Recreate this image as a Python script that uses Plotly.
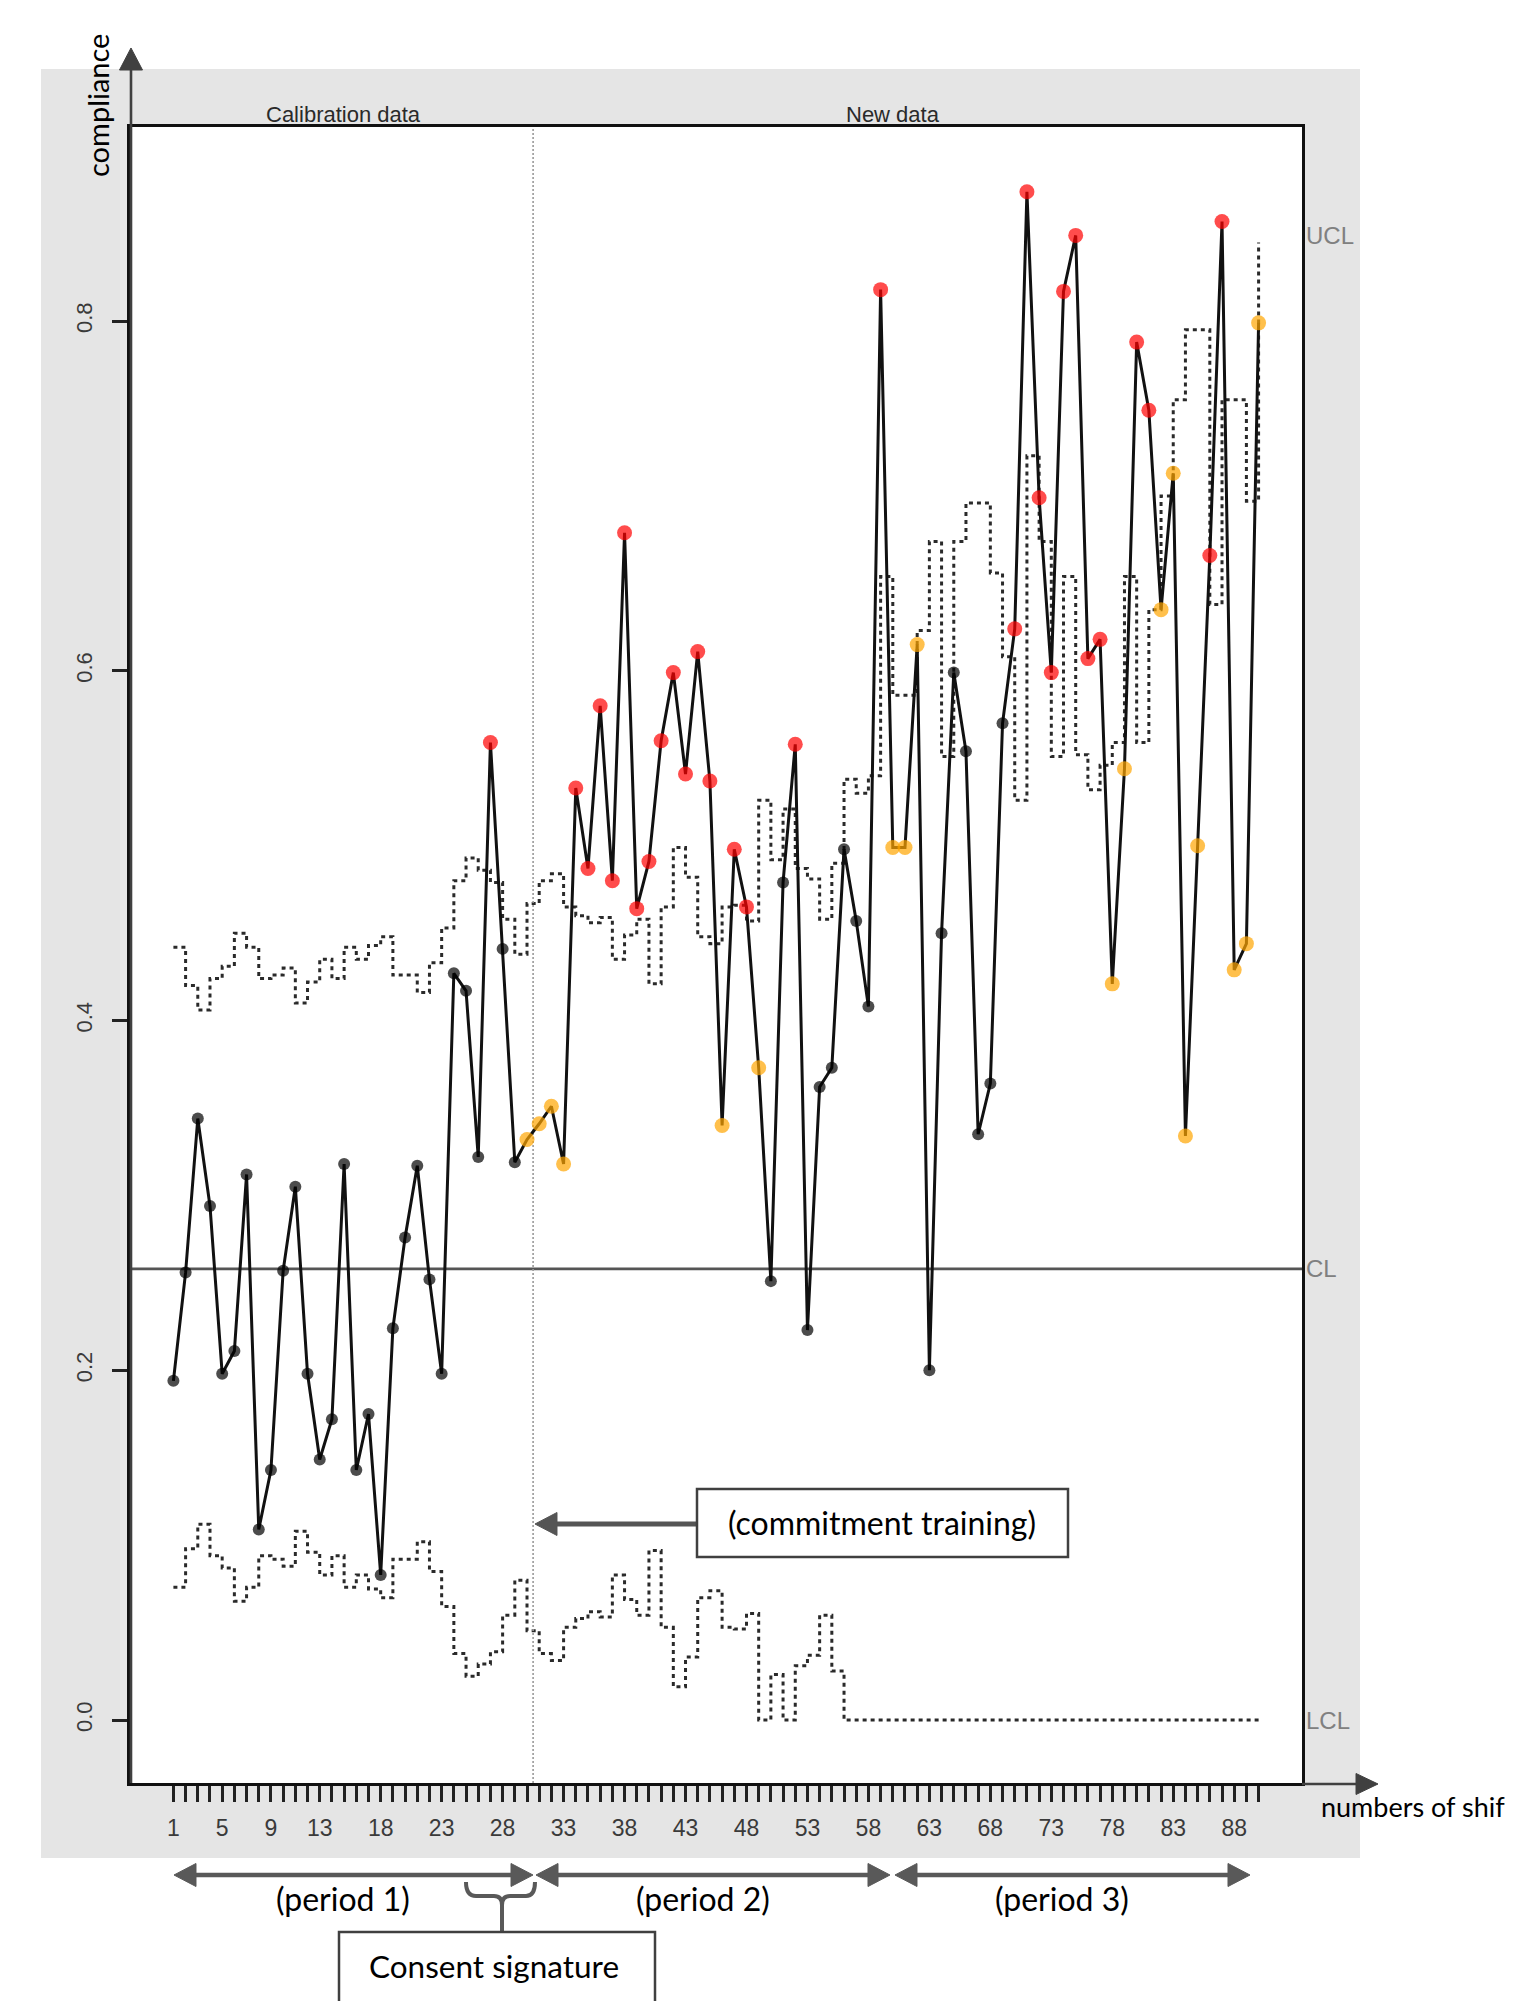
import plotly.graph_objects as go

# ---------------- data ----------------
shift = list(range(1, 91))

compliance = [
    0.194, 0.256, 0.344, 0.294, 0.198, 0.211, 0.312, 0.109, 0.143, 0.257,
    0.305, 0.198, 0.149, 0.172, 0.318, 0.143, 0.175, 0.083, 0.224, 0.276,
    0.317, 0.252, 0.198, 0.427, 0.417, 0.322, 0.559, 0.441, 0.319, 0.332,
    0.341, 0.351, 0.318, 0.533, 0.487, 0.580, 0.480, 0.679, 0.464, 0.491,
    0.560, 0.599, 0.541, 0.611, 0.537, 0.340, 0.498, 0.465, 0.373, 0.251,
    0.479, 0.558, 0.223, 0.362, 0.373, 0.498, 0.457, 0.408, 0.818, 0.499,
    0.499, 0.615, 0.200, 0.450, 0.599, 0.554, 0.335, 0.364, 0.570, 0.624,
    0.874, 0.699, 0.599, 0.817, 0.849, 0.607, 0.618, 0.421, 0.544, 0.788,
    0.749, 0.635, 0.713, 0.334, 0.500, 0.666, 0.857, 0.429, 0.444, 0.799,
]

ucl = [
    0.442, 0.420, 0.406, 0.424, 0.431, 0.450, 0.442, 0.424, 0.426, 0.430,
    0.410, 0.422, 0.435, 0.424, 0.442, 0.435, 0.443, 0.448, 0.426, 0.426,
    0.416, 0.433, 0.453, 0.480, 0.493, 0.486, 0.479, 0.458, 0.438, 0.467,
    0.480, 0.484, 0.465, 0.460, 0.456, 0.459, 0.435, 0.449, 0.458, 0.421,
    0.465, 0.499, 0.482, 0.448, 0.444, 0.465, 0.466, 0.457, 0.526, 0.492,
    0.521, 0.487, 0.481, 0.458, 0.490, 0.538, 0.530, 0.540, 0.654, 0.586,
    0.586, 0.623, 0.674, 0.551, 0.674, 0.696, 0.696, 0.656, 0.608, 0.526,
    0.723, 0.674, 0.551, 0.654, 0.552, 0.532, 0.546, 0.559, 0.654, 0.559,
    0.635, 0.700, 0.755, 0.795, 0.795, 0.638, 0.755, 0.755, 0.697, 0.845,
]

lcl = [
    0.076, 0.098, 0.112, 0.094, 0.087, 0.068, 0.076, 0.094, 0.092, 0.088,
    0.108, 0.096, 0.083, 0.094, 0.076, 0.083, 0.075, 0.070, 0.092, 0.092,
    0.102, 0.085, 0.065, 0.038, 0.025, 0.032, 0.039, 0.060, 0.080, 0.051,
    0.038, 0.034, 0.053, 0.058, 0.062, 0.059, 0.083, 0.069, 0.060, 0.097,
    0.053, 0.019, 0.036, 0.070, 0.074, 0.053, 0.052, 0.061, 0.000, 0.026,
    0.000, 0.031, 0.037, 0.060, 0.028, 0.000, 0.000, 0.000, 0.000, 0.000,
    0.000, 0.000, 0.000, 0.000, 0.000, 0.000, 0.000, 0.000, 0.000, 0.000,
    0.000, 0.000, 0.000, 0.000, 0.000, 0.000, 0.000, 0.000, 0.000, 0.000,
    0.000, 0.000, 0.000, 0.000, 0.000, 0.000, 0.000, 0.000, 0.000, 0.000,
]

# point status: k = in control (black), r = red, o = orange
status = list(
    "kkkkkkkkkkkkkkkkkkkkkkkkkk"   # 1-26
    "rkk"                          # 27-29
    "oooo"                         # 30-33
    "rrrrrrrrrrrr"                 # 34-45
    "orro"                         # 46-49
    "kkr"                          # 50-52
    "kkkkkkr"                      # 53-59
    "ooo"                          # 60-62
    "kkkkkkk"                      # 63-69
    "rrrrrrrr"                     # 70-77
    "oorroooorrooo"                # 78-90
)

center_line = 0.258
calibration_end = 30.5

x_tick_positions = [1, 5, 9, 13, 18, 23, 28, 33, 38, 43, 48, 53, 58, 63, 68, 73, 78, 83, 88]
y_tick_values = [0.0, 0.2, 0.4, 0.6, 0.8]
y_tick_labels = ["0.0", "0.2", "0.4", "0.6", "0.8"]

section_labels = ["Calibration data", "New data"]
limit_labels = ["UCL", "CL", "LCL"]
period_labels = ["(period 1)", "(period 2)", "(period 3)"]
y_title = "compliance"
x_title = "numbers of shif"
training_label = "(commitment training)"
consent_label = "Consent signature"

# ---------------- layout geometry (reference-page pixels) ----------------
W, H = 1513, 2001
OFF = 8                      # page body margin
L, R, T, B = 130, 1302, 127, 1783
XR = [-2.56, 93.56]
YR = [-0.036, 0.911]


def X(px):
    return (px - L) / (R - L)


def Y(py):
    return (B - py) / (B - T)


COLOR_MAP = {"k": "#000000", "r": "#ff0000", "o": "#ffa500"}
SIZE_MAP = {"k": 12, "r": 15, "o": 15}

fig = go.Figure()

# control limits (step lines)
for lim in (ucl, lcl):
    fig.add_trace(go.Scatter(
        x=shift, y=lim, mode="lines",
        line=dict(shape="hv", color="#2a2a2a", width=3, dash="4px,4px"),
        hoverinfo="skip", showlegend=False))

# centre line
fig.add_trace(go.Scatter(
    x=XR, y=[center_line, center_line], mode="lines",
    line=dict(color="#555555", width=2.8), hoverinfo="skip", showlegend=False))

# calibration / new data separator
fig.add_trace(go.Scatter(
    x=[calibration_end, calibration_end], y=YR, mode="lines",
    line=dict(color="#9a9a9a", width=1.6, dash="2px,2px"),
    hoverinfo="skip", showlegend=False))

# compliance series
fig.add_trace(go.Scatter(
    x=shift, y=compliance, mode="lines",
    line=dict(color="#111111", width=3), showlegend=False))
fig.add_trace(go.Scatter(
    x=shift, y=compliance, mode="markers",
    marker=dict(color=[COLOR_MAP[s] for s in status],
                size=[SIZE_MAP[s] for s in status], line=dict(width=0)),
    showlegend=False))

shapes = []
# grey panel + white plotting region
shapes.append(dict(type="rect", xref="paper", yref="paper", layer="below",
                   x0=X(41), x1=X(1360), y0=Y(1858), y1=Y(69),
                   fillcolor="#e5e5e5", line=dict(width=0)))
shapes.append(dict(type="rect", xref="paper", yref="paper", layer="below",
                   x0=0, x1=1, y0=0, y1=1,
                   fillcolor="#ffffff", line=dict(width=0)))


def arrow(x0, y0, x1, y1, width, head_len, head_w, color, both=False):
    """straight arrow between pixel points, head at (x1, y1)"""
    out = []
    dx, dy = x1 - x0, y1 - y0
    n = (dx * dx + dy * dy) ** 0.5
    ux, uy = dx / n, dy / n
    px_, py_ = -uy, ux
    sx0 = x0 + ux * (head_len - 2 if both else 0)
    sy0 = y0 + uy * (head_len - 2 if both else 0)
    sx1, sy1 = x1 - ux * (head_len - 2), y1 - uy * (head_len - 2)
    out.append(dict(type="line", xref="paper", yref="paper",
                    x0=X(sx0), y0=Y(sy0), x1=X(sx1), y1=Y(sy1),
                    line=dict(color=color, width=width)))

    def head(tx, ty, vx, vy):
        bx, by = tx - vx * head_len, ty - vy * head_len
        pts = [(tx, ty), (bx + px_ * head_w / 2, by + py_ * head_w / 2),
               (bx - px_ * head_w / 2, by - py_ * head_w / 2)]
        path = "M " + " L ".join(f"{X(a):.5f},{Y(b):.5f}" for a, b in pts) + " Z"
        return dict(type="path", xref="paper", yref="paper", path=path,
                    fillcolor=color, line=dict(color=color, width=1))

    out.append(head(x1, y1, ux, uy))
    if both:
        out.append(head(x0, y0, -ux, -uy))
    return out


# axis arrows
shapes += arrow(131, B, 131, 48, 2.6, 22, 23, "#404040")
shapes += arrow(1302, B + 1, 1378, B + 1, 2.6, 22, 21, "#404040")
# commitment training arrow
shapes += arrow(697, 1524, 535, 1524, 5, 22, 23, "#555555")
# period arrows
shapes += arrow(174, 1875, 533, 1875, 4.5, 22, 23, "#595959", both=True)
shapes += arrow(536, 1875, 890, 1875, 4.5, 22, 23, "#595959", both=True)
shapes += arrow(895, 1875, 1250, 1875, 4.5, 22, 23, "#595959", both=True)

# brace for consent signature
brace_path = (f"M {X(466):.5f},{Y(1882):.5f} Q {X(466):.5f},{Y(1896):.5f} {X(476):.5f},{Y(1896):.5f} "
              f"L {X(494):.5f},{Y(1896):.5f} Q {X(502):.5f},{Y(1896):.5f} {X(502):.5f},{Y(1905):.5f} "
              f"Q {X(502):.5f},{Y(1896):.5f} {X(510):.5f},{Y(1896):.5f} "
              f"L {X(526):.5f},{Y(1896):.5f} Q {X(535):.5f},{Y(1896):.5f} {X(535):.5f},{Y(1882):.5f}")
shapes.append(dict(type="path", xref="paper", yref="paper", path=brace_path,
                   line=dict(color="#595959", width=4)))
shapes.append(dict(type="line", xref="paper", yref="paper",
                   x0=X(502), x1=X(502), y0=Y(1902), y1=Y(1932),
                   line=dict(color="#595959", width=4)))

# boxes
shapes.append(dict(type="rect", xref="paper", yref="paper",
                   x0=X(697), x1=X(1068), y0=Y(1557), y1=Y(1489),
                   fillcolor="#ffffff", line=dict(color="#404040", width=2.5)))
shapes.append(dict(type="rect", xref="paper", yref="paper",
                   x0=X(339), x1=X(655), y0=Y(2015), y1=Y(1932),
                   fillcolor="#ffffff", line=dict(color="#404040", width=2.5)))

annotations = []
R_FONT = "Liberation Sans, Arial, sans-serif"
W_FONT = "Lato, Open Sans, sans-serif"


def txt(text, x, y, size, color, family, xanchor="center", xref="paper", yref="paper",
        angle=0):
    annotations.append(dict(text=text, x=x, y=y, xref=xref, yref=yref,
                            xanchor=xanchor, yanchor="middle", showarrow=False,
                            textangle=angle,
                            font=dict(size=size, color=color, family=family)))


txt(section_labels[0], X(343), Y(115), 22, "#2a2a2a", R_FONT)
txt(section_labels[1], X(893), Y(115), 22, "#2a2a2a", R_FONT)
txt(limit_labels[0], X(1304), ucl[-1] + 0.004, 24, "#808080", R_FONT, xanchor="left", yref="y")
txt(limit_labels[1], X(1304), center_line, 24, "#808080", R_FONT, xanchor="left", yref="y")
txt(limit_labels[2], X(1304), lcl[-1], 24, "#808080", R_FONT, xanchor="left", yref="y")
txt(y_title, X(97), Y(106), 29, "#000000", W_FONT, angle=-90)
txt(x_title, X(1319), Y(1806), 27, "#000000", W_FONT, xanchor="left")
txt(training_label, X(882), Y(1522), 32, "#000000", W_FONT)
txt(consent_label, X(494), Y(1966), 31.5, "#000000", W_FONT)
for lab, cx in zip(period_labels, [343, 703, 1062]):
    txt(lab, X(cx), Y(1898), 32, "#000000", W_FONT)

fig.update_layout(
    width=W, height=H,
    margin=dict(l=L - OFF, r=W - (R - OFF), t=T - OFF, b=H - (B - OFF), pad=0),
    paper_bgcolor="#ffffff", plot_bgcolor="#ffffff",
    showlegend=False,
    shapes=shapes, annotations=annotations,
    xaxis=dict(range=XR, tickvals=shift,
               ticktext=[str(v) if v in x_tick_positions else "" for v in shift],
               ticks="outside", ticklen=16, tickwidth=3, tickcolor="#222222",
               showline=True, linecolor="#111111", linewidth=2.8, mirror=True,
               showgrid=False, zeroline=False, ticklabelstandoff=6,
               tickfont=dict(family=R_FONT, size=23, color="#3a3a3a")),
    yaxis=dict(range=YR, tickvals=y_tick_values, ticktext=y_tick_labels,
               ticks="outside", ticklen=15, tickwidth=3, tickcolor="#222222",
               tickangle=-90, ticklabelstandoff=11,
               showline=True, linecolor="#111111", linewidth=2.8, mirror=True,
               showgrid=False, zeroline=False,
               tickfont=dict(family=R_FONT, size=22, color="#3a3a3a")),
)

fig.write_html("out.html")
